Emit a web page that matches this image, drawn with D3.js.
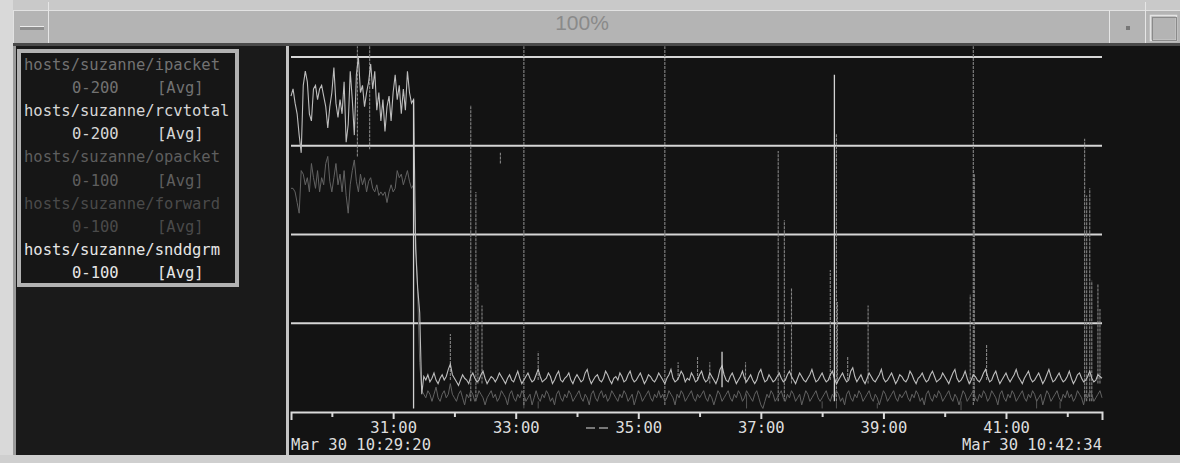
<!DOCTYPE html>
<html>
<head>
<meta charset="utf-8">
<script src="https://cdn.jsdelivr.net/npm/d3@7"></script>
<style>
  html, body { margin: 0; padding: 0; background: #c6c6c6; }
  svg { display: block; }
</style>
</head>
<body>
<script>
// strip chart of 5 host counters, 10:29:20 -> 10:42:34, one sample every 2 s

const windowTitle = "100%";
const seriesNames = ["hosts/suzanne/ipacket", "hosts/suzanne/rcvtotal", "hosts/suzanne/opacket",
                     "hosts/suzanne/forward", "hosts/suzanne/snddgrm"];
const seriesRanges = ["0-200", "0-200", "0-100", "0-100", "0-100"];
const seriesModes = ["[Avg]", "[Avg]", "[Avg]", "[Avg]", "[Avg]"];

const startLabel = "Mar 30 10:29:20";
const endLabel = "Mar 30 10:42:34";
const tickMinutes = [30, 31, 32, 33, 34, 35, 36, 37, 38, 39, 40, 41, 42];
const gridValues = [25, 50, 75, 100];   // on the 0-100 scale

const STEP = 2; // seconds between samples

// rcvtotal, 0-200
const rcvtotal = [
  178,182,174,168,156,146,184,192,186,168,164,182,184,176,182,184,178,172,160,172,
  180,194,174,166,176,168,186,152,162,192,176,156,190,200,180,184,172,180,186,196,
  182,192,170,180,164,176,158,172,178,164,180,190,176,184,168,182,170,192,180,174,
  176,92,70,56,10,20,18,21,17,19,22,18,16,19,21,18,20,24,27,21,
  19,17,15,18,21,19,18,16,20,22,19,17,18,21,23,19,16,18,20,19,
  17,19,22,20,18,16,19,21,18,17,20,23,19,16,18,20,22,19,17,18,
  21,24,20,17,18,19,22,20,16,18,21,23,18,17,19,20,22,18,16,19,
  21,19,17,18,22,24,19,16,18,20,21,18,17,19,23,21,18,16,19,20,
  18,22,20,17,18,21,23,19,17,18,20,22,19,16,18,21,20,18,17,19,
  22,20,18,16,19,21,24,19,17,18,20,23,21,17,19,18,22,20,17,18,
  21,23,19,17,18,22,20,18,16,19,24,26,21,18,17,20,22,19,16,18,
  20,23,19,17,19,21,18,16,18,22,24,20,17,18,21,19,17,18,20,22,
  19,17,18,21,23,20,18,16,19,22,20,18,17,19,21,24,20,17,18,20,
  22,19,17,18,21,23,19,16,18,20,22,19,17,18,23,25,20,17,19,21,
  18,16,19,22,20,18,17,19,21,24,19,17,18,20,22,19,16,18,21,20,
  18,17,19,23,21,18,16,19,20,22,19,17,18,21,23,20,17,18,19,22,
  20,18,16,19,22,24,19,17,18,20,23,19,16,18,21,20,18,17,19,22,
  24,20,17,18,21,23,19,16,18,20,22,19,17,19,21,24,20,18,16,19,
  21,23,19,17,18,20,22,19,16,18,21,24,20,17,18,20,22,19,17,18,
  20,23,19,16,18,21,22,19,17,18,20,23,19,17,18,21,20,19
];

// opacket, 0-100
const opacket = [
  63,63,62,59,56,68,67,64,66,62,70,66,63,68,62,66,64,70,72,65,
  62,66,70,64,67,62,68,61,56,64,68,71,65,62,67,64,66,62,65,66,
  63,62,64,61,62,61,62,59,62,64,62,63,68,66,67,64,66,68,65,63,
  64,50,34,14,6,5,4,6,5,3,5,7,4,3,5,6,4,5,8,5,
  4,3,5,6,4,2,5,4,6,5,3,4,6,5,4,2,4,5,6,4,
  5,3,4,6,5,4,2,5,6,4,3,5,4,6,5,3,4,5,2,4,
  6,4,3,5,4,6,5,3,4,2,5,6,4,3,5,4,6,5,3,4,
  5,6,4,3,5,4,2,5,6,4,3,5,6,4,5,3,4,6,5,4,
  3,5,4,6,5,3,4,5,2,4,6,5,3,4,5,6,4,3,5,4,
  6,4,5,3,4,6,5,4,2,5,4,6,5,3,4,5,6,4,3,5,
  4,5,6,4,3,5,4,2,4,6,5,3,4,5,6,4,3,5,4,6,
  5,3,4,6,5,4,3,5,6,4,2,1,3,5,4,6,5,3,4,5,
  6,4,3,5,4,6,5,3,4,5,2,4,6,5,3,4,5,6,4,3,
  4,5,6,4,3,5,4,6,5,3,4,2,5,6,4,3,5,4,6,5,
  3,4,5,6,4,3,5,4,2,4,6,5,3,4,5,6,4,3,5,4,
  5,6,4,3,5,4,6,5,3,4,2,5,6,4,3,5,4,6,5,3,
  4,5,6,4,3,5,4,2,4,6,5,3,4,5,6,4,3,5,4,6,
  5,3,4,6,5,4,2,5,6,4,3,5,4,6,5,3,4,5,6,4,
  3,5,4,6,5,3,4,5,2,4,6,5,3,4,5,6,4,3,5,4,
  6,4,5,3,4,6,5,4,2,5,4,6,5,3,4,5,6,4
];

// short bursts: [seconds after start, low, high]
const ipacketSpikes = [   // 0-200
  [65,144,206],[77,148,206],[156,18,44],[176,6,173],[181,6,124],[183,16,72],[187,16,60],
  [205,140,146],[228,4,206],[242,18,34],[366,4,206],[379,18,28],[398,18,31],[410,16,28],
  [445,16,28],[477,6,147],[483,6,108],[490,16,70],[528,18,80],[534,6,157],[535,16,62],
  [545,18,31],[565,16,60],[665,16,66],[668,4,206],[669,6,134],[681,18,38],
  [777,6,154],[779,6,122],[782,6,126],[784,6,74],[790,16,72],[792,16,58]
];
const snddgrmSpikes = [   // 0-100
  [120,1,88],[422,7,17],[532,3,95]
];
const forwardBlips = [    // 0-100
  [228,1,4],[242,1,3],[446,1,5],[520,1,3],[534,1,3],[574,1,2.5],[656,0.5,3],[730,1,3.5],[753,1,3]
];

const W = 1180, H = 463;
const mono = "'DejaVu Sans Mono', monospace";
const t0 = new Date(1998, 2, 30, 10, 29, 20);
const t1 = new Date(1998, 2, 30, 10, 42, 34);
const at = s => new Date(t0.getTime() + s * 1000);

const svg = d3.select("body").append("svg").attr("width", W).attr("height", H);

// ---- window frame ----
svg.append("rect").attr("width", W).attr("height", H).attr("fill", "#c9c9c9");
svg.append("rect").attr("x", 0).attr("y", 0).attr("width", 13).attr("height", H).attr("fill", "#d9d9d9");
svg.append("rect").attr("x", 13).attr("y", 10).attr("width", W - 13).attr("height", 34).attr("fill", "#b4b4b4");
svg.append("line").attr("x1", 13).attr("x2", W).attr("y1", 10.5).attr("y2", 10.5).attr("stroke", "#e2e2e2");
svg.append("line").attr("x1", 13.5).attr("x2", 13.5).attr("y1", 10).attr("y2", 46).attr("stroke", "#e2e2e2");
svg.append("line").attr("x1", 48.5).attr("x2", 48.5).attr("y1", 2).attr("y2", 44).attr("stroke", "#e6e6e6");
svg.append("line").attr("x1", 1109.5).attr("x2", 1109.5).attr("y1", 10).attr("y2", 44).attr("stroke", "#e6e6e6");
svg.append("line").attr("x1", 1145.5).attr("x2", 1145.5).attr("y1", 2).attr("y2", 44).attr("stroke", "#e6e6e6");
svg.append("rect").attr("x", 20).attr("y", 27).attr("width", 24).attr("height", 3).attr("fill", "#8e8e8e");
svg.append("line").attr("x1", 20).attr("x2", 44).attr("y1", 26.5).attr("y2", 26.5).attr("stroke", "#ececec");
svg.append("rect").attr("x", 1126).attr("y", 26).attr("width", 4).attr("height", 4).attr("fill", "#777");
svg.append("rect").attr("x", 1150.5).attr("y", 15.5).attr("width", 26).attr("height", 25)
  .attr("fill", "none").attr("stroke", "#e4e4e4").attr("stroke-width", 1.5);
svg.append("rect").attr("x", 1152.5).attr("y", 17.5).attr("width", 24).attr("height", 23)
  .attr("fill", "none").attr("stroke", "#8a8a8a");
svg.append("text").attr("x", 582).attr("y", 30).attr("text-anchor", "middle")
  .attr("font-family", "'Liberation Sans', Arial, sans-serif").attr("font-size", 21)
  .attr("fill", "#8a8a8a").text(windowTitle);
svg.append("rect").attr("x", 13).attr("y", 43).attr("width", W - 13).attr("height", 3).attr("fill", "#4a4a4a");

// dark work area
svg.append("rect").attr("x", 15).attr("y", 46).attr("width", W - 15).attr("height", 409).attr("fill", "#131313");
svg.append("rect").attr("x", 15).attr("y", 46).attr("width", 271).attr("height", 409).attr("fill", "#1a1a1a");
svg.append("rect").attr("x", 13).attr("y", 46).attr("width", 3).attr("height", 409).attr("fill", "#9a9a9a");
svg.append("rect").attr("x", 286).attr("y", 46).attr("width", 3).attr("height", 409).attr("fill", "#c4c4c4");
svg.append("rect").attr("x", 0).attr("y", 455).attr("width", W).attr("height", 8).attr("fill", "#cfcfcf");

// ---- legend ----
const lg = svg.append("g").attr("font-family", mono).attr("font-size", 15.5);
lg.append("rect").attr("x", 19).attr("y", 51).attr("width", 218).attr("height", 234)
  .attr("fill", "#161616").attr("stroke", "#b2b2b2").attr("stroke-width", 4);
const legendColors = ["#727272", "#d6d6d6", "#5e5e5e", "#4a4a4a", "#e6e6e6"];
seriesNames.forEach((name, i) => {
  const yc = 65 + i * 2 * 23.1;
  lg.append("text").attr("x", 24).attr("y", yc + 5).attr("fill", legendColors[i]).text(name);
  lg.append("text").attr("x", 72).attr("y", yc + 23.1 + 5).attr("fill", legendColors[i]).text(seriesRanges[i]);
  lg.append("text").attr("x", 157).attr("y", yc + 23.1 + 5).attr("fill", legendColors[i]).text(seriesModes[i]);
});

// ---- plot ----
const x = d3.scaleTime().domain([t0, t1]).range([291, 1102]);
const y100 = d3.scaleLinear().domain([0, 100]).range([412, 57]);
const y200 = d3.scaleLinear().domain([0, 200]).range([412, 57]);

svg.append("clipPath").attr("id", "plotclip")
  .append("rect").attr("x", 290).attr("y", 46).attr("width", 814).attr("height", 366);

svg.append("g").selectAll("line").data(gridValues).join("line")
  .attr("x1", x(t0)).attr("x2", x(t1))
  .attr("y1", d => y100(d)).attr("y2", d => y100(d))
  .attr("stroke", "#d6d6d6").attr("stroke-width", 2);

const plot = svg.append("g").attr("clip-path", "url(#plotclip)");

const spikes = (data, yS, color, width, dash) => plot.append("g").selectAll("line").data(data).join("line")
  .attr("x1", d => x(at(d[0]))).attr("x2", d => x(at(d[0])))
  .attr("y1", d => yS(d[1])).attr("y2", d => yS(d[2]))
  .attr("stroke", color).attr("stroke-width", width).attr("stroke-dasharray", dash);

spikes(forwardBlips, y100, "#555", 1, null);
spikes(ipacketSpikes, y200, "#858585", 1.1, "3,1");

const line = yS => d3.line().x((d, i) => x(at(i * STEP))).y(d => yS(d));

plot.append("path").datum(opacket).attr("d", line(y100))
  .attr("fill", "none").attr("stroke", "#626262").attr("stroke-width", 1);
plot.append("path").datum(rcvtotal).attr("d", line(y200))
  .attr("fill", "none").attr("stroke", "#bdbdbd").attr("stroke-width", 1.1);

spikes(snddgrmSpikes, y100, "#d2d2d2", 1.3, null);

// ---- time axis ----
const oddMin = d => d.getMinutes() % 2 === 1;
const axis = d3.axisBottom(x)
  .tickValues(tickMinutes.map(m => new Date(1998, 2, 30, 10, m, 0)))
  .tickFormat(d => oddMin(d) ? d3.timeFormat("%M:%S")(d) : "")
  .tickSize(5).tickSizeOuter(8);

const ax = svg.append("g").attr("transform", "translate(0,412)").call(axis);
ax.attr("font-family", mono).attr("font-size", 15.5);
ax.select(".domain").attr("stroke", "#dadada").attr("stroke-width", 2);
ax.selectAll(".tick line").attr("stroke", "#dadada").attr("stroke-width", 2)
  .attr("y2", d => oddMin(d) ? 7 : 5);
ax.selectAll(".tick text").attr("fill", "#dedede").attr("y", 21).attr("dy", null);

// little dash in front of 35:00
svg.append("line").attr("x1", 586).attr("x2", 611).attr("y1", 428).attr("y2", 428)
  .attr("stroke", "#9a9a9a").attr("stroke-width", 1.5).attr("stroke-dasharray", "9,4");

svg.append("text").attr("x", 291).attr("y", 450).attr("font-family", mono).attr("font-size", 15.5)
  .attr("fill", "#dedede").text(startLabel);
svg.append("text").attr("x", 1102).attr("y", 450).attr("text-anchor", "end").attr("font-family", mono)
  .attr("font-size", 15.5).attr("fill", "#dedede").text(endLabel);
</script>
</body>
</html>
